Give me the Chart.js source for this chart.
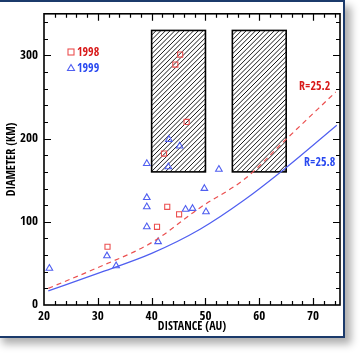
<!DOCTYPE html>
<html>
<head>
<meta charset="utf-8">
<script src="https://cdn.jsdelivr.net/npm/chart.js@4/dist/chart.umd.min.js"></script>
<style>
  html, body { margin: 0; padding: 0; background: #ffffff; width: 364px; height: 356px; overflow: hidden; }
  #card { position: absolute; left: -4px; top: 0; width: 345px; height: 334px;
          border: 2px solid #1b3a6b; background: #fff; box-shadow: 6px 6px 8px rgba(0,0,0,0.32); }
  #wrap { position: absolute; left: 0; top: 0; width: 364px; height: 356px; }
</style>
</head>
<body>
<div id="card"></div>
<div id="wrap"><canvas id="c" width="364" height="356"></canvas></div>
<script>
// ---- data ----
const distance1998 = [31.8, 41.0, 42.3, 42.9, 44.4, 45.1, 45.3, 46.5];
const diameter1998 = [70, 94, 182, 118, 289, 109, 301, 220];

const distance1999 = [21.0, 31.7, 33.4, 39.1, 39.1, 39.1, 39.1, 41.2, 43.1, 43.2, 45.2, 46.3, 47.6, 49.8, 50.1, 52.5];
const diameter1999 = [44, 59, 47, 94, 118, 129, 170, 76, 166, 199, 191, 115, 116, 140, 112, 163];

const curveDistR252 = [20.8, 30, 40, 49, 57.4, 64.8, 74.2];
const curveDiamR252 = [20, 45, 75, 117, 152, 198, 256];
const curveDistR258 = [20.8, 30, 40, 49, 57.4, 64.8, 74.4];
const curveDiamR258 = [17, 38, 62, 91, 127, 164, 216];

const blockDistStart = [40, 55];
const blockDistEnd = [50, 65];
const blockDiamLow = [160, 160];
const blockDiamHigh = [330, 330];

const xTickLabels = [20, 30, 40, 50, 60, 70];
const yTickLabels = [0, 100, 200, 300];

const seriesNames = ['1998', '1999'];
const curveNames = ['R=25.2', 'R=25.8'];

const FONT = "'Open Sans Condensed', 'Liberation Sans Narrow', sans-serif";
const RED = 'rgb(235,80,80)';
const BLUE = 'rgb(80,95,240)';
const RED_TXT = '#d81818';
const BLUE_TXT = '#2848f0';

function zip(xs, ys) { return xs.map((x, i) => ({ x: x, y: ys[i] })); }

const decorPlugin = {
  id: 'decor',
  beforeDatasetsDraw(chart) {
    const ctx = chart.ctx, xs = chart.scales.x, ys = chart.scales.y;
    ctx.save();
    for (let i = 0; i < blockDistStart.length; i++) {
      const l = xs.getPixelForValue(blockDistStart[i]);
      const r = xs.getPixelForValue(blockDistEnd[i]);
      const t = ys.getPixelForValue(blockDiamHigh[i]);
      const b = ys.getPixelForValue(blockDiamLow[i]);
      ctx.save();
      ctx.beginPath(); ctx.rect(l, t, r - l, b - t); ctx.clip();
      ctx.strokeStyle = '#000'; ctx.lineWidth = 0.9;
      const h = b - t;
      for (let x0 = l - h; x0 < r + 2; x0 += 4.7) {
        ctx.beginPath(); ctx.moveTo(x0, b); ctx.lineTo(x0 + h, t); ctx.stroke();
      }
      ctx.restore();
      ctx.strokeStyle = '#000'; ctx.lineWidth = 1.6;
      ctx.strokeRect(l, t, r - l, b - t);
    }
    ctx.restore();
  },
  afterDatasetsDraw(chart) {
    const ctx = chart.ctx, xs = chart.scales.x, ys = chart.scales.y, a = chart.chartArea;
    ctx.save();
    ctx.strokeStyle = '#000';
    ctx.lineWidth = 1.6;
    ctx.strokeRect(a.left, a.top, a.right - a.left, a.bottom - a.top);
    ctx.lineWidth = 1.2;
    for (let v = 22; v < 75; v += 2) {
      const major = (v % 10 === 0);
      const len = major ? 7 : 4;
      const p = Math.round(xs.getPixelForValue(v)) + 0.5;
      ctx.beginPath();
      ctx.moveTo(p, a.bottom); ctx.lineTo(p, a.bottom - len);
      ctx.moveTo(p, a.top); ctx.lineTo(p, a.top + len);
      ctx.stroke();
    }
    for (let v = 20; v < 350; v += 20) {
      const major = (v % 100 === 0);
      const len = major ? 7 : 4;
      const p = Math.round(ys.getPixelForValue(v)) + 0.5;
      ctx.beginPath();
      ctx.moveTo(a.left, p); ctx.lineTo(a.left + len, p);
      ctx.moveTo(a.right, p); ctx.lineTo(a.right - len, p);
      ctx.stroke();
    }
    // legend
    ctx.font = 'bold 12px ' + FONT;
    ctx.textBaseline = 'middle';
    ctx.textAlign = 'left';
    ctx.lineWidth = 1.1;
    ctx.strokeStyle = RED;
    ctx.strokeRect(68, 49, 6, 6);
    ctx.fillStyle = RED_TXT;
    ctx.fillText(seriesNames[0], 77, 52.5);
    ctx.strokeStyle = BLUE;
    ctx.beginPath(); ctx.moveTo(71, 64.5); ctx.lineTo(74.5, 70.5); ctx.lineTo(67.5, 70.5); ctx.closePath(); ctx.stroke();
    ctx.fillStyle = BLUE_TXT;
    ctx.fillText(seriesNames[1], 77, 68.5);
    // curve labels
    ctx.fillStyle = RED_TXT;
    ctx.fillText(curveNames[0], 299, 87);
    ctx.fillStyle = BLUE_TXT;
    ctx.fillText(curveNames[1], 304, 163);
    ctx.restore();
  }
};

new Chart(document.getElementById('c'), {
  type: 'scatter',
  data: {
    datasets: [
      { label: curveNames[0], type: 'line', data: zip(curveDistR252, curveDiamR252),
        borderColor: RED, borderWidth: 1.2, borderDash: [5, 4], pointRadius: 0, fill: false,
        cubicInterpolationMode: 'monotone' },
      { label: curveNames[1], type: 'line', data: zip(curveDistR258, curveDiamR258),
        borderColor: BLUE, borderWidth: 1.2, pointRadius: 0, fill: false,
        cubicInterpolationMode: 'monotone' },
      { label: seriesNames[0], data: zip(distance1998, diameter1998), pointStyle: 'rect',
        pointRadius: 3.6, borderColor: RED, borderWidth: 1.1, backgroundColor: 'rgba(0,0,0,0)' },
      { label: seriesNames[1], data: zip(distance1999, diameter1999), pointStyle: 'triangle',
        pointRadius: 3.8, borderColor: BLUE, borderWidth: 1.1, backgroundColor: 'rgba(0,0,0,0)' }
    ]
  },
  options: {
    responsive: false,
    animation: false,
    devicePixelRatio: 1,
    layout: { padding: { left: 0, top: 9, right: 24, bottom: 20 } },
    plugins: { legend: { display: false }, tooltip: { enabled: false } },
    scales: {
      x: {
        type: 'linear', min: 20, max: 75,
        afterFit(s) { s.height = 31; },
        afterBuildTicks(s) { s.ticks = xTickLabels.map(v => ({ value: v })); },
        grid: { display: false, drawTicks: false },
        border: { display: false },
        ticks: { color: '#000', padding: 4, maxRotation: 0, font: { family: FONT, size: 13, weight: 'bold' } },
        title: { display: true, text: 'DISTANCE (AU)', color: '#000',
                 font: { family: FONT, size: 12, weight: 'bold' }, padding: { top: 2, bottom: 2 } }
      },
      y: {
        type: 'linear', min: 0, max: 350,
        afterFit(s) { s.width = 44; },
        afterBuildTicks(s) { s.ticks = yTickLabels.map(v => ({ value: v })); },
        grid: { display: false, drawTicks: false },
        border: { display: false },
        ticks: { color: '#000', padding: 6, font: { family: FONT, size: 13, weight: 'bold' } },
        title: { display: true, text: 'DIAMETER (KM)', color: '#000',
                 font: { family: FONT, size: 12, weight: 'bold' }, padding: { top: 5, bottom: 5 } }
      }
    }
  },
  plugins: [decorPlugin]
});
</script>
</body>
</html>
